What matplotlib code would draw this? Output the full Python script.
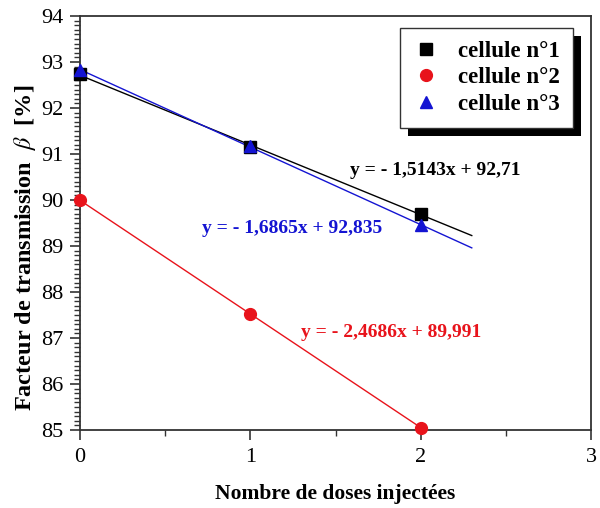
import numpy as np
import matplotlib
matplotlib.use("Agg")
import matplotlib.pyplot as plt
from matplotlib.ticker import MultipleLocator, AutoMinorLocator
from matplotlib.patches import Rectangle

plt.rcParams['font.family'] = ['Liberation Serif', 'DejaVu Serif']
plt.rcParams['mathtext.fontset'] = 'stix'

doses = [0, 1, 2]
cell1 = [92.73, 91.16, 89.70]
cell2 = [89.99, 87.53, 85.05]
cell3 = [92.82, 91.18, 89.45]
labels = ["cellule n°1", "cellule n°2", "cellule n°3"]
equations = ["y = - 1,5143x + 92,71", "y = - 2,4686x + 89,991", "y = - 1,6865x + 92,835"]
fit_end = [2.3, 2.0, 2.3]

colors = ['#000000', '#e8131b', '#1414d2']
markers = ['s', 'o', '^']
series = [cell1, cell2, cell3]
eq_pos = [(1.585, 90.65), (1.30, 87.13), (0.716, 89.37)]

fig = plt.figure(figsize=(6.0, 5.08), dpi=100)
ax = fig.add_axes([80/600, 1-430/508, (591-80)/600, (430-16)/508])

handles = []
for ys, c, m, lab, xe in zip(series, colors, markers, labels, fit_end):
    k, b = np.polyfit(doses, ys, 1)
    xf = np.array([0, xe])
    ax.plot(xf, k*xf + b, color=c, lw=1.0, zorder=2)
    h, = ax.plot(doses, ys, ls='none', marker=m, color=c, ms=8.5, label=lab, zorder=3,
                 clip_on=False)
    handles.append(h)

for txt, c, (x, y) in zip(equations, colors, eq_pos):
    ax.text(x, y, txt, color=c, fontsize=14, fontweight='bold', ha='left', va='center')

ax.set_xlim(0, 3)
ax.set_ylim(85, 94)
ax.xaxis.set_major_locator(MultipleLocator(1))
ax.xaxis.set_minor_locator(MultipleLocator(0.5))
ax.yaxis.set_major_locator(MultipleLocator(1))
ax.yaxis.set_minor_locator(AutoMinorLocator(10))
ax.tick_params(axis='both', which='major', direction='out', length=7, width=1.2,
               labelsize=16, color='#333333')
ax.tick_params(axis='both', which='minor', direction='out', length=4, width=1.0,
               color='#333333')
ax.tick_params(axis='x', pad=6)
ax.tick_params(axis='y', pad=5)
for s in ax.spines.values():
    s.set_linewidth(1.3)
    s.set_color('#333333')

ax.set_xlabel("Nombre de doses injectées", fontsize=15.5, fontweight='bold', labelpad=12)
ax.set_ylabel("Facteur de transmission  $\\beta$  [%]", fontsize=17.5, fontweight='bold')
ax.yaxis.set_label_coords(-0.082, 0.44)

leg = ax.legend(handles=handles, loc='upper left', bbox_to_anchor=(400/600, 1-28/508),
                bbox_transform=fig.transFigure, frameon=True, fancybox=False,
                facecolor='white', framealpha=1.0,
                edgecolor='#333333', prop={'weight': 'bold', 'size': 16.5},
                handletextpad=0.8, borderpad=0.55, labelspacing=0.25,
                handlelength=1.2, borderaxespad=0)
leg.get_frame().set_linewidth(1.0)
leg.set_zorder(10)

fig.canvas.draw()
bb = leg.get_window_extent()
off = 8
shadow = Rectangle((bb.x0 + off, bb.y0 - off), bb.width, bb.height,
                   transform=None, facecolor='black', edgecolor='none', zorder=9)
ax.add_artist(shadow)

fig.savefig("out.png", dpi=100)
